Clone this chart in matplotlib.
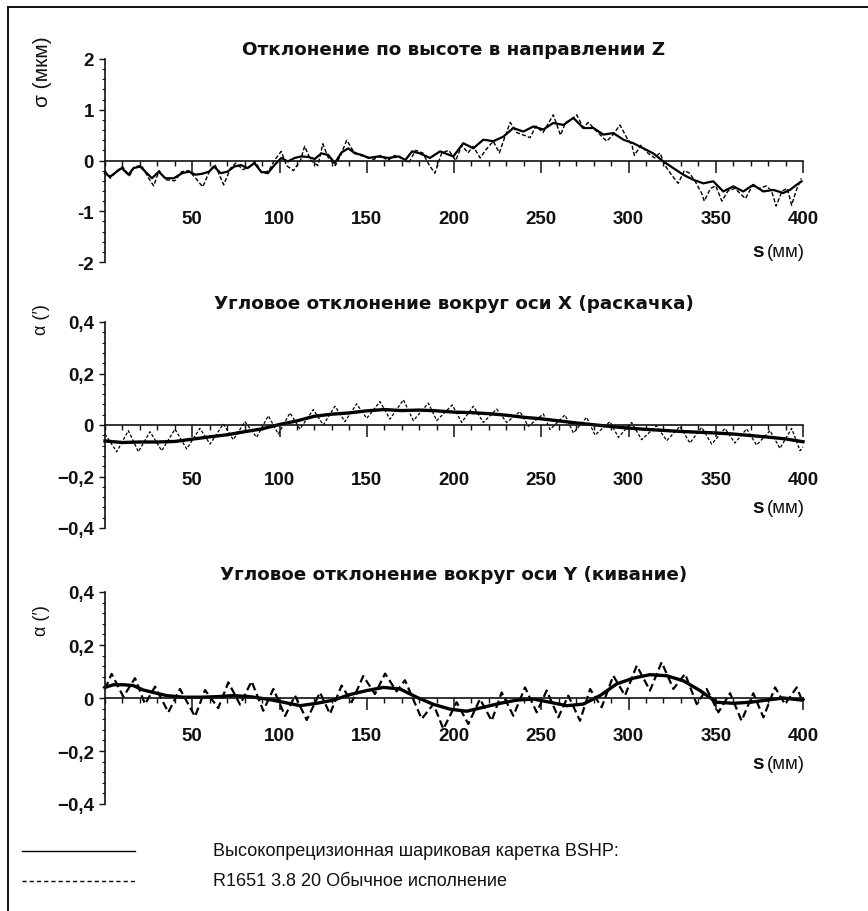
import matplotlib
matplotlib.use('Agg')
import matplotlib.pyplot as plt
from matplotlib.lines import Line2D
from matplotlib.ticker import MultipleLocator, FixedLocator

# ---------------- data ----------------
s_ticks = [50, 100, 150, 200, 250, 300, 350, 400]
s_tick_labels = ['50', '100', '150', '200', '250', '300', '350', '400']

titles = ['Отклонение по высоте в направлении Z',
          'Угловое отклонение вокруг оси X (раскачка)',
          'Угловое отклонение вокруг оси Y (кивание)']
ylabels = ['σ (мкм)', 'α (′)', 'α (′)']

z_yticks = [-2, -1, 0, 1, 2]
z_ytick_labels = ['-2', '-1', '0', '1', '2']
a_yticks = [-0.4, -0.2, 0, 0.2, 0.4]
a_ytick_labels = ['−0,4', '−0,2', '0', '0,2', '0,4']

legend_labels = ['Высокопрецизионная шариковая каретка BSHP:',
                 'R1651 3.8 20 Обычное исполнение']

# Panel 1: height deviation Z (µm)
z_solid_s = [0, 2.9, 6.7, 9.6, 13.5, 16.3, 20.2, 24, 26.9, 30.8, 34.6, 39.4, 44.2, 48.1,
             51.9, 55.8, 59.6, 62.5, 66.3, 70.2, 74, 77.9, 81.7, 85.6, 89.4, 93.3, 97.1,
             101, 104.8, 108.7, 112.5, 116.3, 120.2, 124, 127.9, 131.7, 135.6, 139.4,
             143.3, 147.1, 151, 156.7, 162.5, 168.3, 172.1, 176, 180.5, 186.2, 192,
             199.6, 205.3, 211.1, 216.8, 222.5, 228.3, 234, 239.7, 245.5, 251.2, 256.9,
             262.7, 268.4, 274.1, 279.9, 285.6, 291.3, 297.1, 302.8, 308.5, 314.2, 320,
             325.7, 331.4, 337.1, 342.9, 348.6, 354.3, 360.1, 365.8, 371.5, 377.2, 383,
             388.7, 392.5, 396.3, 399.2]
z_solid_v = [-0.25, -0.32, -0.22, -0.15, -0.28, -0.15, -0.12, -0.25, -0.35, -0.22, -0.35,
             -0.35, -0.25, -0.22, -0.28, -0.26, -0.22, -0.12, -0.25, -0.22, -0.12, -0.09,
             -0.15, -0.05, -0.22, -0.25, -0.09, 0.05, -0.02, 0.05, 0.08, 0.07, 0.03, 0.14,
             0.11, -0.05, 0.16, 0.24, 0.14, 0.11, 0.05, 0.08, 0.05, 0.08, 0.01, 0.18, 0.14,
             0.05, 0.18, 0.08, 0.34, 0.24, 0.41, 0.38, 0.47, 0.64, 0.57, 0.67, 0.61, 0.74,
             0.70, 0.84, 0.64, 0.64, 0.51, 0.54, 0.41, 0.34, 0.24, 0.14, -0.02, -0.15,
             -0.28, -0.38, -0.45, -0.41, -0.61, -0.51, -0.61, -0.48, -0.61, -0.58, -0.64,
             -0.58, -0.48, -0.41]
z_dash_s = [0, 3, 7, 10, 14, 17, 21, 25, 27.9, 31, 35, 40, 44, 48, 52, 56, 60, 63, 68, 72,
            75, 79, 83, 86, 90, 94, 97, 101, 104, 108, 112, 114.4, 118, 122, 124.8, 128,
            132, 135, 138.5, 142, 146, 150, 154, 158, 162, 166, 170, 174, 178, 182, 186,
            189, 193, 197, 201, 204.5, 208, 211, 215, 218, 222.5, 226, 229, 232.2, 236,
            240, 243.6, 247, 251, 256.9, 261, 264, 268, 270.3, 274, 277, 281, 287.5, 291,
            295.1, 299, 302, 303.4, 307, 311, 315, 318, 321, 325, 328.5, 332, 335, 338,
            342, 343.4, 347, 350, 353.5, 357, 361, 364, 367, 371, 375, 379, 382, 384.6,
            388, 391, 393.5, 396, 399]
z_dash_v = [-0.2, -0.35, -0.2, -0.12, -0.3, -0.12, -0.1, -0.35, -0.5, -0.2, -0.38, -0.4,
            -0.22, -0.2, -0.35, -0.52, -0.2, -0.08, -0.48, -0.15, -0.05, -0.18, -0.12,
            -0.02, -0.25, -0.2, 0.0, 0.18, -0.1, -0.2, 0.0, 0.28, 0.0, -0.1, 0.33, 0.05,
            -0.1, 0.1, 0.4, 0.2, 0.1, 0.08, 0.02, 0.1, 0.0, 0.1, 0.05, -0.05, 0.2, 0.15,
            -0.1, -0.25, 0.15, 0.2, 0.0, 0.3, 0.15, 0.28, 0.05, 0.2, 0.38, 0.15, 0.45,
            0.75, 0.55, 0.5, 0.45, 0.68, 0.55, 0.9, 0.5, 0.75, 0.82, 0.9, 0.65, 0.75, 0.6,
            0.38, 0.5, 0.7, 0.45, 0.3, 0.1, 0.3, 0.15, 0.05, 0.15, -0.1, -0.3, -0.45, -0.2,
            -0.25, -0.4, -0.65, -0.8, -0.55, -0.5, -0.8, -0.6, -0.55, -0.65, -0.75, -0.5,
            -0.55, -0.5, -0.6, -0.9, -0.6, -0.55, -0.88, -0.6, -0.35]

# Panel 2: angular deviation about X (roll), arc-minutes
x_solid_s = [0, 10, 20, 30, 40, 50, 60, 70, 80, 90, 100, 110, 120, 130, 140, 150, 160,
             170, 180, 190, 200, 210, 220, 230, 240, 250, 260, 270, 280, 290, 300, 310,
             320, 330, 340, 350, 360, 370, 380, 390, 400]
x_solid_v = [-0.062, -0.068, -0.066, -0.066, -0.064, -0.055, -0.046, -0.038, -0.026,
             -0.015, 0.002, 0.016, 0.034, 0.042, 0.047, 0.055, 0.06, 0.056, 0.058, 0.055,
             0.05, 0.048, 0.044, 0.038, 0.03, 0.024, 0.016, 0.008, 0.001, -0.006, -0.012,
             -0.017, -0.021, -0.025, -0.028, -0.031, -0.035, -0.041, -0.047, -0.054,
             -0.065]
x_dash_s = [0, 6.7, 13.4, 19.1, 25.8, 32.5, 40.1, 46.8, 54.4, 60.2, 67.8, 73.5, 80.2,
            86.9, 93.6, 99.3, 106, 111.7, 119.4, 125.1, 131.8, 137.5, 144.2, 150, 157.6,
            163.3, 171, 176.7, 185.3, 190.1, 199, 204.4, 211.1, 216.8, 224.4, 230.2,
            237.8, 242.6, 251.2, 255, 263.6, 268.4, 276, 280.8, 289.4, 294.2, 301.8,
            307.5, 316.1, 321.9, 329.5, 335.2, 341.9, 347.7, 355.3, 361, 367.7, 373.4,
            381.1, 386.8, 393.5, 398.3, 400]
x_dash_v = [-0.035, -0.104, -0.022, -0.104, -0.026, -0.1, -0.016, -0.093, -0.013, -0.074,
            0.004, -0.057, 0.013, -0.048, 0.036, -0.035, 0.047, -0.016, 0.06, 0.0, 0.073,
            0.013, 0.082, 0.026, 0.091, 0.023, 0.098, 0.017, 0.085, 0.017, 0.078, 0.01,
            0.073, 0.01, 0.062, 0.01, 0.052, -0.005, 0.043, -0.018, 0.039, -0.031, 0.03,
            -0.039, 0.013, -0.048, 0.01, -0.057, -0.003, -0.061, -0.005, -0.07, -0.009,
            -0.074, -0.013, -0.07, -0.015, -0.078, -0.022, -0.091, -0.013, -0.1, -0.085]

# Panel 3: angular deviation about Y (pitch), arc-minutes
y_solid_s = [0, 4.8, 10.5, 16.2, 22, 27.7, 35.3, 44.9, 54.4, 64, 73.5, 83.1, 92.6, 102.2,
             111.7, 121.3, 130.9, 140.4, 150, 159.5, 169.1, 178.6, 188.2, 197.7, 207.2,
             216.8, 226.4, 235.9, 245.5, 255, 264.6, 274.1, 283.7, 293.2, 302.8, 312.3,
             321.9, 331.4, 341, 350.5, 360.1, 369.6, 379.2, 388.7, 399.2, 400]
y_solid_v = [0.04, 0.05, 0.05, 0.047, 0.03, 0.021, 0.009, 0.003, 0.003, 0.005, 0.009,
             0.005, -0.004, -0.016, -0.029, -0.02, -0.008, 0.013, 0.028, 0.04, 0.034,
             0.003, -0.024, -0.042, -0.05, -0.035, -0.02, -0.008, -0.004, -0.016, -0.029,
             -0.023, 0.009, 0.053, 0.075, 0.088, 0.084, 0.065, 0.028, -0.016, -0.02,
             -0.016, -0.008, 0.0, -0.008, -0.005]
y_dash_s = [0, 3.8, 10.5, 17.2, 22.9, 28.7, 36.3, 43, 51.6, 57.3, 64.9, 70.7, 77.4, 84,
            90.7, 96.5, 103.2, 108.9, 115.6, 123.2, 128.9, 135.6, 141.4, 148, 154.7,
            160.5, 167.1, 171.9, 181.5, 188.2, 193.9, 201.5, 208.2, 214.9, 221.6, 227.3,
            234, 240.7, 247.4, 253.1, 259.8, 265.5, 272.2, 278, 284.6, 291.3, 298, 304.7,
            312.3, 319, 325.7, 332.4, 339.1, 344.8, 351.5, 358.2, 364.8, 371.5, 377.3,
            384, 389.7, 396.4, 399.2]
y_dash_v = [0.034, 0.091, 0.005, 0.075, -0.023, 0.043, -0.054, 0.034, -0.07, 0.03, -0.038,
            0.059, -0.025, 0.063, -0.048, 0.034, -0.068, 0.009, -0.083, 0.021, -0.06,
            0.047, -0.016, 0.083, 0.015, 0.092, 0.025, 0.067, -0.079, -0.023, -0.117,
            -0.016, -0.098, -0.004, -0.086, 0.021, -0.067, 0.04, -0.054, 0.028, -0.073,
            0.009, -0.086, 0.034, -0.035, 0.084, 0.009, 0.122, 0.028, 0.135, 0.034, 0.091,
            -0.023, 0.034, -0.054, 0.018, -0.086, 0.018, -0.073, 0.04, -0.023, 0.04,
            -0.004]

# ---------------- figure ----------------
W, H = 868, 912
INK = '#111111'
fig = plt.figure(figsize=(W / 100, H / 100), dpi=100)
PT = 0.72  # points per pixel at 100 dpi

# outer frame (top and left edges visible in reference)
fig.add_artist(Line2D([8 / W, 1.0], [1 - 8 / H, 1 - 8 / H], transform=fig.transFigure,
                      color=INK, lw=1.4))
fig.add_artist(Line2D([8 / W, 8 / W], [1 - 8 / H, 0.0], transform=fig.transFigure,
                      color=INK, lw=1.4))

TICK_FONT = dict(family=['Liberation Sans', 'DejaVu Sans'], weight='bold', size=13.5)
LABEL_FAMILY = ['Liberation Sans', 'DejaVu Sans']
TITLE_FONT = dict(family=['DejaVu Sans'], weight='bold', size=13.2)

panels = [
    dict(top=60, bot=263, lim=(-2, 2), yt=z_yticks, ytl=z_ytick_labels, ymin=0.2,
         title_y=50, ylab_y=72, ylab_size=15, xpad=38, sy=257,
         series=[(z_solid_s, z_solid_v, dict(lw=1.6, ls='-')),
                 (z_dash_s, z_dash_v, dict(lw=1.0, ls=(0, (3, 1.5))))]),
    dict(top=323, bot=529, lim=(-0.4, 0.4), yt=a_yticks, ytl=a_ytick_labels, ymin=0.04,
         title_y=304, ylab_y=320, ylab_size=13, xpad=34, sy=513,
         series=[(x_solid_s, x_solid_v, dict(lw=2.4, ls='-')),
                 (x_dash_s, x_dash_v, dict(lw=0.9, ls=(0, (2.5, 1.5))))]),
    dict(top=593, bot=805, lim=(-0.4, 0.4), yt=a_yticks, ytl=a_ytick_labels, ymin=0.04,
         title_y=575, ylab_y=621, ylab_size=13, xpad=17, sy=769,
         series=[(y_solid_s, y_solid_v, dict(lw=2.4, ls='-')),
                 (y_dash_s, y_dash_v, dict(lw=1.6, ls=(0, (3.5, 1.8))))]),
]

X0, X1 = 105, 803
for i, p in enumerate(panels):
    ax = fig.add_axes([X0 / W, 1 - p['bot'] / H, (X1 - X0) / W, (p['bot'] - p['top']) / H])
    ax.patch.set_alpha(0)
    ax.set_xlim(0, 400)
    ax.set_ylim(*p['lim'])
    for side in ('top', 'right'):
        ax.spines[side].set_visible(False)
    ax.spines['bottom'].set_position(('data', 0))
    ax.spines['bottom'].set_linewidth(1.2)
    ax.spines['left'].set_linewidth(1.2)
    ax.spines['bottom'].set_color(INK)
    ax.spines['left'].set_color(INK)

    ax.xaxis.set_major_locator(FixedLocator(s_ticks))
    ax.set_xticklabels(s_tick_labels, **TICK_FONT)
    ax.xaxis.set_minor_locator(MultipleLocator(10))
    ax.tick_params(axis='x', which='major', direction='out', length=12 * PT, width=1.1,
                   pad=p['xpad'] * PT, colors=INK)
    ax.tick_params(axis='x', which='minor', direction='out', length=5 * PT, width=1.0,
                   colors=INK)

    ax.yaxis.set_major_locator(FixedLocator(p['yt']))
    ax.set_yticklabels(p['ytl'], **TICK_FONT)
    ax.yaxis.set_minor_locator(MultipleLocator(p['ymin']))
    ax.tick_params(axis='y', which='major', direction='out', length=6 * PT, width=1.0,
                   pad=5 * PT, colors=INK)
    ax.tick_params(axis='y', which='minor', direction='out', length=3 * PT, width=0.8,
                   colors=INK)

    for s, v, st in p['series']:
        ax.plot(s, v, color='black', clip_on=False, solid_joinstyle='round', **st)

    fig.text(454 / W, 1 - p['title_y'] / H, titles[i], ha='center', va='center',
             color=INK, **TITLE_FONT)
    fig.text(42 / W, 1 - p['ylab_y'] / H, ylabels[i], rotation=90, ha='center',
             va='center', color=INK, family=LABEL_FAMILY, size=p['ylab_size'])
    fig.text(764 / W, 1 - p['sy'] / H, 's', ha='right', va='baseline', color=INK,
             family=LABEL_FAMILY, weight='bold', size=15)
    fig.text(767 / W, 1 - p['sy'] / H, '(мм)', ha='left', va='baseline', color=INK,
             family=LABEL_FAMILY, size=13.5)

# legend
LEG_FONT = dict(family=['Liberation Sans Narrow', 'Liberation Sans', 'DejaVu Sans'],
                size=13)
for k, (ly, ls) in enumerate([(852, '-'), (882, (0, (3, 2.2)))]):
    fig.add_artist(Line2D([22 / W, 135 / W], [1 - ly / H, 1 - ly / H],
                          transform=fig.transFigure, color='black', lw=1.0, ls=ls))
    fig.text(213 / W, 1 - ly / H, legend_labels[k], ha='left', va='center', color=INK,
             **LEG_FONT)

fig.savefig('out.png', dpi=100, facecolor='white')
